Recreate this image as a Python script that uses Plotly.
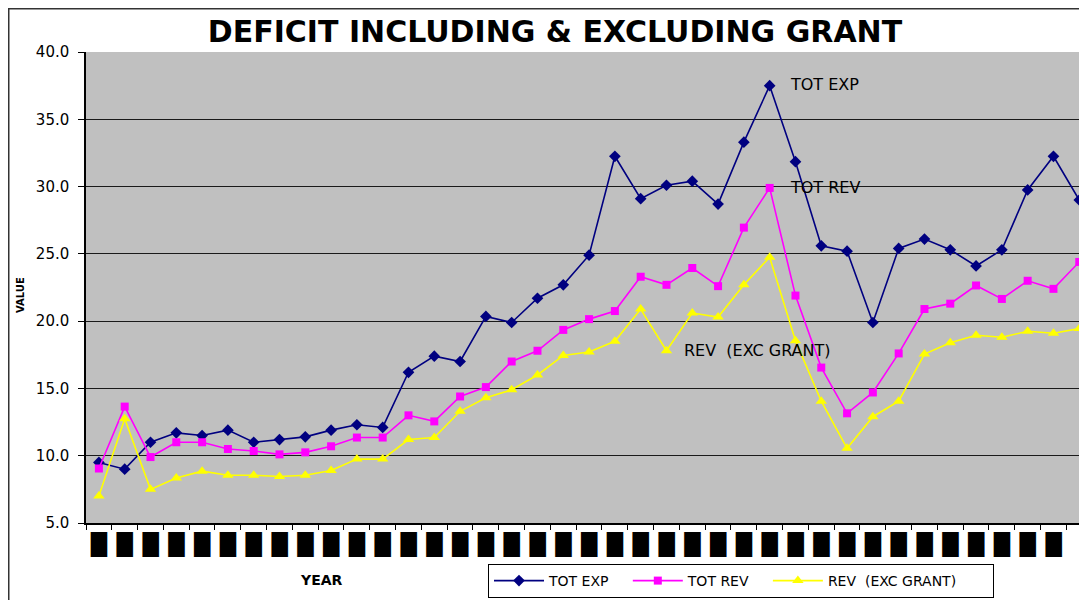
import plotly.graph_objects as go

# ---- data ----
positions = list(range(39))
tick_labels = ["\u2588"] * 39

tot_exp = [9.5, 9.0, 11.0, 11.7, 11.5, 11.9, 11.0, 11.2, 11.4, 11.9, 12.3, 12.1,
           16.2, 17.4, 17.0, 20.35, 19.9, 21.7, 22.7, 24.9, 32.25, 29.1, 30.1, 30.4,
           28.7, 33.3, 37.5, 31.85, 25.6, 25.2, 19.9, 25.4, 26.1, 25.3, 24.1, 25.3,
           29.75, 32.25, 29.0]
tot_rev = [9.05, 13.65, 9.9, 11.0, 11.0, 10.5, 10.35, 10.1, 10.25, 10.7, 11.35, 11.35,
           13.0, 12.55, 14.4, 15.1, 17.0, 17.8, 19.35, 20.15, 20.75, 23.3, 22.7, 23.95,
           22.6, 26.95, 29.9, 21.9, 16.55, 13.15, 14.7, 17.6, 20.9, 21.3, 22.65, 21.65,
           23.0, 22.4, 24.4]
rev_exc = [7.0, 12.75, 7.5, 8.35, 8.85, 8.55, 8.55, 8.45, 8.55, 8.9, 9.75, 9.75,
           11.2, 11.35, 13.3, 14.3, 14.9, 16.0, 17.45, 17.7, 18.5, 20.9, 17.8, 20.6,
           20.3, 22.7, 24.75, 18.55, 14.05, 10.55, 12.9, 14.05, 17.55, 18.4, 18.95, 18.8,
           19.25, 19.1, 19.45]

series_names = ["TOT EXP", "TOT REV", "REV  (EXC GRANT)"]
series_colors = ["#000080", "#FF00FF", "#FFFF00"]
legend_pad = [3, 3, 7]   # trailing non-breaking spaces to widen legend entries
NB = "\u00a0"

symbols = ["diamond", "square", "triangle-up"]
msizes = [9, 8, 10]
fig = go.Figure()
for vals, nm, col, sym, ms, pad in zip([tot_exp, tot_rev, rev_exc], series_names,
                                      series_colors, symbols, msizes, legend_pad):
    fig.add_trace(go.Scatter(x=positions, y=vals, name=nm + NB * pad, mode="lines+markers",
                             line=dict(color=col, width=1.6),
                             marker=dict(symbol=sym, size=ms, color=col)))

# The page body adds an 8px offset; work in page pixels and convert.
OFF = 8
W, H = 1087 - OFF, 600 - OFF
PLOT_L, PLOT_T, PLOT_B, PLOT_R = 86, 52, 523, 1087   # page pixels
L, T = PLOT_L - OFF, PLOT_T - OFF
B = H - (PLOT_B - OFF)
R = W - (PLOT_R - OFF)
pw, ph = W - L - R, H - T - B

def px(xp):
    return (xp - OFF - L) / pw

def py(yp):
    return (H - B - (yp - OFF)) / ph

fig.update_layout(
    width=W, height=H,
    margin=dict(l=L, r=R, t=T, b=B, autoexpand=False),
    paper_bgcolor="white",
    plot_bgcolor="#C0C0C0",
    font=dict(family="DejaVu Sans", color="black"),
    title=dict(text="<b>DEFICIT INCLUDING &amp; EXCLUDING GRANT</b>",
               font=dict(family="DejaVu Sans", size=30, color="black"),
               x=px(555), xref="paper", xanchor="center",
               y=1 - (31 - OFF) / H, yref="container", yanchor="middle"),
    showlegend=True,
    legend=dict(orientation="h", x=px(488), y=py(564), xanchor="left", yanchor="top",
                bordercolor="black", borderwidth=1, bgcolor="white",
                font=dict(family="DejaVu Sans", size=14), itemwidth=50,
                tracegroupgap=0),
)

fig.update_xaxes(range=[-0.5, 38.3], tickmode="array", tickvals=positions, ticktext=tick_labels,
                 ticks="", showgrid=False, zeroline=False, automargin=False,
                 showline=True, linecolor="black", linewidth=1.5,
                 tickfont=dict(family="DejaVu Sans", size=21, color="black"),
                 ticklabelstandoff=2,
                 minor=dict(ticks="outside", tick0=-0.5, dtick=1, ticklen=5,
                            tickcolor="black", showgrid=False))
fig.update_yaxes(range=[5, 40], dtick=5, tickformat=".1f", automargin=False,
                 ticks="outside", ticklen=6, tickcolor="black",
                 showgrid=True, gridcolor="#1a1a1a", gridwidth=1, zeroline=False,
                 showline=True, linecolor="black", linewidth=1.5,
                 ticklabelstandoff=6,
                 tickfont=dict(family="DejaVu Sans", size=15, color="black"))

ann = [
    dict(text="TOT EXP", x=26.7, y=37.6, xref="x", yref="y", xanchor="left", yanchor="middle",
         showarrow=False, font=dict(size=16, color="black")),
    dict(text="TOT REV", x=26.7, y=29.9, xref="x", yref="y", xanchor="left", yanchor="middle",
         showarrow=False, font=dict(size=16, color="black")),
    dict(text="REV  (EXC GRANT)", x=22.6, y=17.8, xref="x", yref="y", xanchor="left",
         yanchor="middle", showarrow=False, font=dict(size=16, color="black")),
    dict(text="<b>VALUE</b>", x=px(20), y=py(295), xref="paper", yref="paper", textangle=-90,
         xanchor="center", yanchor="middle",
         showarrow=False, font=dict(size=10, color="black")),
    dict(text="<b>YEAR</b>", x=px(321), y=py(580), xref="paper", yref="paper",
         xanchor="center", yanchor="middle",
         showarrow=False, font=dict(size=14, color="black")),
]
fig.update_layout(annotations=ann)

fig.add_shape(type="rect", xref="paper", yref="paper",
              x0=px(8.5), y0=py(640), x1=px(1120), y1=py(8.5),
              line=dict(color="#333333", width=2), fillcolor="rgba(0,0,0,0)", layer="below")

fig.write_html("out.html")
